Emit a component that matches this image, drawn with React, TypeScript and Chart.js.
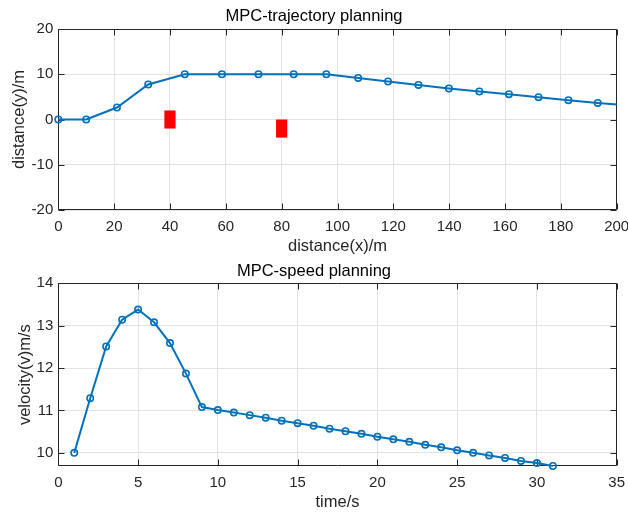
import React, { useEffect, useRef } from "react";
import { Chart, registerables } from "chart.js";
Chart.register(...registerables);

// ---- Top subplot: trajectory ----
const trajX = [0, 10, 21, 32.2, 45.3, 58.6, 71.7, 84.3, 96, 107.4, 118.1, 129, 139.9, 150.8, 161.4, 172, 182.7, 193.2, 203.8];
const trajY = [0, 0, 2.65, 7.73, 10, 10, 10, 10, 10, 9.19, 8.4, 7.65, 6.85, 6.19, 5.59, 4.93, 4.27, 3.67, 3.1];
const obsX = [38, 78];
const obsY = [-2, -4];
const obsW = [4, 4];
const obsH = [4, 4];

// ---- Bottom subplot: speed ----
const timeS = [1, 2, 3, 4, 5, 6, 7, 8, 9, 10, 11, 12, 13, 14, 15, 16, 17, 18, 19, 20, 21, 22, 23, 24, 25, 26, 27, 28, 29, 30, 31];
const speed = [10.0, 11.29, 12.51, 13.14, 13.38, 13.08, 12.59, 11.87, 11.08, 11.01, 10.95, 10.89, 10.83, 10.76, 10.70, 10.64, 10.57, 10.51, 10.45, 10.38, 10.32, 10.26, 10.19, 10.13, 10.06, 10.0, 9.94, 9.88, 9.81, 9.76, 9.69];

const FONT = "'Liberation Sans', Arial, Helvetica, sans-serif";
const TXT = "#262626";
const GRID = "#e3e3e3";
const BLUE = "#0072BD";

const boxPlugin = {
  id: "matlabBox",
  beforeDatasetsDraw(chart: any) {
    const { ctx, chartArea: a, scales } = chart;
    ctx.save();
    ctx.strokeStyle = TXT;
    ctx.lineWidth = 1;
    const L = Math.round(a.left) + 0.5;
    const R = Math.round(a.right) - 0.5;
    const T = Math.round(a.top) + 0.5;
    const B = Math.round(a.bottom) - 0.5;
    ctx.beginPath();
    ctx.rect(L, T, R - L, B - T);
    ctx.stroke();
    const tl = 6;
    ctx.beginPath();
    scales.x.ticks.forEach((t: any) => {
      const px = Math.round(scales.x.getPixelForValue(t.value)) + 0.5;
      ctx.moveTo(px, B);
      ctx.lineTo(px, B - tl);
      ctx.moveTo(px, T);
      ctx.lineTo(px, T + tl);
    });
    scales.y.ticks.forEach((t: any) => {
      const py = Math.round(scales.y.getPixelForValue(t.value)) + 0.5;
      ctx.moveTo(L, py);
      ctx.lineTo(L + tl, py);
      ctx.moveTo(R, py);
      ctx.lineTo(R - tl, py);
    });
    ctx.stroke();
    ctx.restore();
  },
};

const obstaclePlugin = {
  id: "obstacles",
  beforeDatasetsDraw(chart: any) {
    const o = chart.options.plugins.obstacles;
    if (!o || !o.enabled) return;
    const { ctx, scales } = chart;
    ctx.save();
    ctx.fillStyle = "#ff0000";
    for (let i = 0; i < obsX.length; i++) {
      const x0 = scales.x.getPixelForValue(obsX[i]);
      const x1 = scales.x.getPixelForValue(obsX[i] + obsW[i]);
      const y0 = scales.y.getPixelForValue(obsY[i] + obsH[i]);
      const y1 = scales.y.getPixelForValue(obsY[i]);
      ctx.fillRect(x0, y0, x1 - x0, y1 - y0);
    }
    ctx.restore();
  },
};

function makeOptions(cfg: any) {
  return {
    responsive: false,
    animation: false,
    devicePixelRatio: 1,
    layout: { padding: 0 },
    plugins: {
      legend: { display: false },
      tooltip: { enabled: false },
      obstacles: { enabled: cfg.obstacles },
      title: {
        display: true,
        text: cfg.title,
        color: "#000",
        font: { family: FONT, size: 16.5, weight: "normal", lineHeight: 1.2 },
        padding: cfg.titlePad,
      },
    },
    scales: {
      x: {
        type: "linear",
        min: cfg.xmin,
        max: cfg.xmax,
        afterFit: (s: any) => {
          s.height = cfg.xAxisH;
          s.paddingLeft = 0;
          s.paddingRight = 11.3;
        },
        grid: { color: GRID, drawTicks: false, lineWidth: 1 },
        border: { display: false },
        ticks: { stepSize: cfg.xstep, color: TXT, padding: 8, maxRotation: 0, font: { family: FONT, size: 15, lineHeight: 1.2 } },
        title: { display: true, text: cfg.xlabel, color: TXT, padding: { top: 0, bottom: cfg.xTitlePadB }, font: { family: FONT, size: 16.5, lineHeight: 1.2 } },
      },
      y: {
        type: "linear",
        min: cfg.ymin,
        max: cfg.ymax,
        afterFit: (s: any) => {
          s.width = 58.3;
          s.paddingTop = 0;
          s.paddingBottom = 0;
        },
        afterBuildTicks: (s: any) => { s.ticks = s.ticks.filter((t: any) => t.value >= cfg.ytickMin - 1e-9); },
        grid: { color: GRID, drawTicks: false, lineWidth: 1 },
        border: { display: false },
        ticks: { stepSize: cfg.ystep, includeBounds: false, color: TXT, padding: 5, font: { family: FONT, size: 15, lineHeight: 1.2 } },
        title: { display: true, text: cfg.ylabel, color: TXT, padding: { top: cfg.yTitlePadT, bottom: 0 }, font: { family: FONT, size: 16.5, lineHeight: 1.2 } },
      },
    },
  };
}

function Plot(props: { cfg: any; xs: number[]; ys: number[]; top: number; height: number }) {
  const ref = useRef<HTMLCanvasElement | null>(null);
  useEffect(() => {
    if (!ref.current) return;
    const chart = new Chart(ref.current, {
      type: "line",
      data: {
        datasets: [
          {
            data: props.xs.map((x, i) => ({ x, y: props.ys[i] })),
            borderColor: BLUE,
            borderWidth: 2,
            pointRadius: 3.2,
            pointBorderWidth: 1.6,
            pointBorderColor: BLUE,
            pointBackgroundColor: "rgba(255,255,255,0)",
            tension: 0,
            clip: props.cfg.clip,
          } as any,
        ],
      },
      options: makeOptions(props.cfg) as any,
      plugins: [boxPlugin, obstaclePlugin],
    });
    return () => chart.destroy();
  }, []);
  return (
    <canvas
      ref={ref}
      width={628}
      height={props.height}
      style={{ position: "absolute", left: 0, top: props.top, width: 628, height: props.height, display: "block" }}
    />
  );
}

const topCfg = {
  title: "MPC-trajectory planning",
  titlePad: { top: 6.9, bottom: 2.3 },
  xmin: 0, xmax: 200, xstep: 20,
  ymin: -20, ymax: 20, ystep: 10, ytickMin: -20,
  xlabel: "distance(x)/m",
  ylabel: "distance(y)/m",
  xAxisH: 47,
  xTitlePadB: 0.6,
  yTitlePadT: 9.5,
  obstacles: true,
  clip: { left: 10, top: 10, right: 0, bottom: 10 },
};

const botCfg = {
  title: "MPC-speed planning",
  titlePad: { top: 4.2, bottom: 2.3 },
  xmin: 0, xmax: 35, xstep: 5,
  ymin: 9.69, ymax: 14, ystep: 1, ytickMin: 10,
  xlabel: "time/s",
  ylabel: "velocity(v)m/s",
  xAxisH: 48,
  xTitlePadB: 1.6,
  yTitlePadT: 15.9,
  obstacles: false,
  clip: false,
};

export default function App() {
  return (
    <div style={{ position: "absolute", left: 0, top: 0, width: 628, height: 514, background: "#fff" }}>
      <Plot cfg={topCfg} xs={trajX} ys={trajY} top={0} height={257} />
      <Plot cfg={botCfg} xs={timeS} ys={speed} top={257} height={257} />
    </div>
  );
}
